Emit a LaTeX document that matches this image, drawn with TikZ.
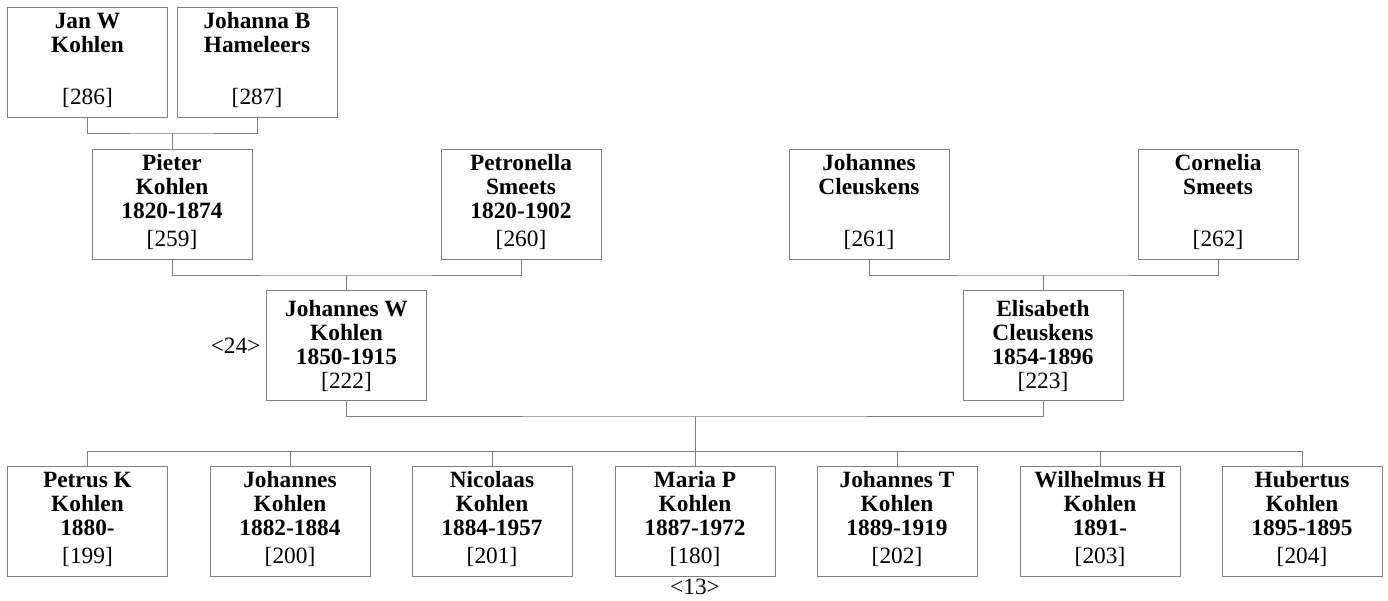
\documentclass[tikz,border=0pt]{standalone}
\usepackage{fontspec}
\setmainfont{Liberation Serif}
\usetikzlibrary{positioning}
\definecolor{boxgray}{RGB}{128,128,128}
\newcommand{\idno}[1]{\\[3pt]\mdseries[#1]\rule[-6pt]{0pt}{1pt}}
\tikzset{
	person/.style={draw=boxgray, line width=0.75pt, minimum width=120pt, minimum height=82.5pt, anchor=north, align=center, inner sep=0pt, font=\fontsize{17.5}{18}\selectfont\bfseries},
	link/.style={draw=boxgray, line width=0.75pt},
	ref/.style={font=\fontsize{17.5}{18}\selectfont, inner sep=1pt}
}
\begin{document}
\begin{tikzpicture}[x=0.75pt,y=-0.75pt]
	\useasboundingbox (0,0) rectangle (1388,600);

	% grandparents
	\node[person] (jan) at (87.5,7) {Jan W\\Kohlen\\\mbox{}\idno{286}};
	\node[person] (johanna) at (257,7) {Johanna B\\Hameleers\\\mbox{}\idno{287}};

	% parents of the couple
	\node[person] (pieter) at (172,149) {Pieter\\Kohlen\\1820-1874\idno{259}};
	\node[person] (petronella) at (521,149) {Petronella\\Smeets\\1820-1902\idno{260}};
	\node[person] (johannes) at (869,149) {Johannes\\Cleuskens\\\mbox{}\idno{261}};
	\node[person] (cornelia) at (1218,149) {Cornelia\\Smeets\\\mbox{}\idno{262}};

	% couple
	\node[person] (jw) at (346.5,290) {Johannes W\\Kohlen\\1850-1915\\\mdseries[222]};
	\node[person] (elisabeth) at (1043,290) {Elisabeth\\Cleuskens\\1854-1896\\\mdseries[223]};
	\node[ref, left=3pt of jw] (jwref) {<24>};

	% children
	\foreach \i/\x/\nm/\yr/\num in {1/87.5/{Petrus K}/1880-/199, 2/290/Johannes/1882-1884/200,
		3/492/Nicolaas/1884-1957/201, 4/695/{Maria P}/1887-1972/180, 5/897/{Johannes T}/1889-1919/202,
		6/1100/{Wilhelmus H}/1891-/203, 7/1302/Hubertus/1895-1895/204}
	\node[person] (c\i) at (\x,466) {\nm\\Kohlen\\\yr\idno{\num}};
	\node[ref, below=0pt of c4] (mariaref) {<13>};

	% connectors
	\coordinate (m1) at (172,133);
	\coordinate (m2) at (346.5,275);
	\coordinate (m3) at (1043,275);
	\coordinate (m4) at (695,416);
	\coordinate (bar) at (695,451);

	\draw[link] (jan.south) |- (m1) -| (johanna.south);
	\draw[link] (m1) -- (pieter.north);
	\draw[link] (pieter.south) |- (m2) -| (petronella.south);
	\draw[link] (m2) -- (jw.north);
	\draw[link] (johannes.south) |- (m3) -| (cornelia.south);
	\draw[link] (m3) -- (elisabeth.north);
	\draw[link] (jw.south) |- (m4) -| (elisabeth.south);
	\draw[link] (m4) -- (bar);
	\foreach \i in {1,...,7}
	\draw[link] (bar) -| (c\i.north);
\end{tikzpicture}
\end{document}
